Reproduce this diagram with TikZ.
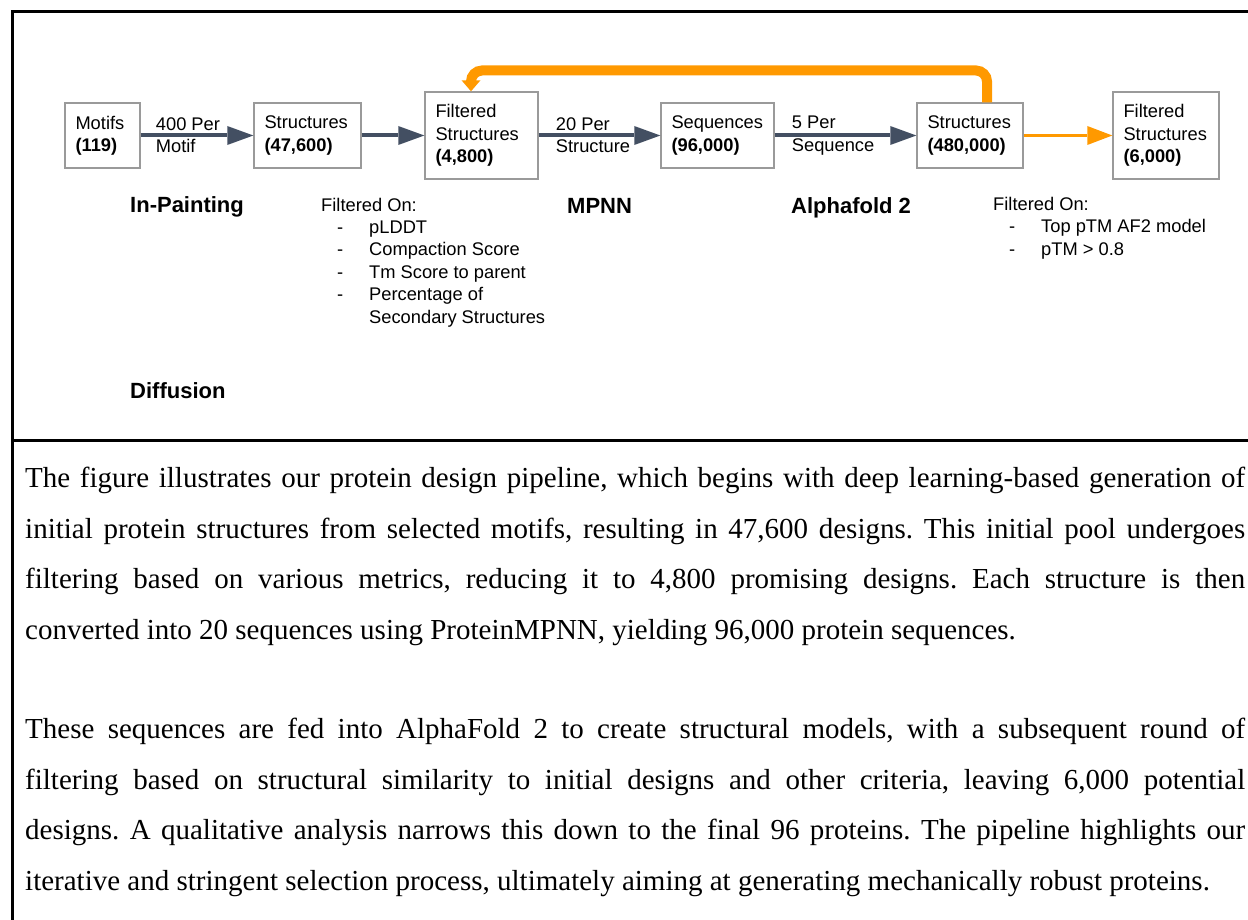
\documentclass[tikz,border=0pt]{standalone}
\usepackage{fontspec}
\setmainfont{Liberation Serif}
\setsansfont{Liberation Sans}
\usetikzlibrary{arrows.meta, positioning}
\frenchspacing

\definecolor{flowdark}{HTML}{434F62}
\definecolor{pickorange}{HTML}{FF9900}
\definecolor{boxgray}{HTML}{9A9A9A}

\newcommand{\boxfont}{\sffamily\fontsize{18.3}{22.4}\selectfont}
\newcommand{\stagefont}{\sffamily\bfseries\fontsize{22}{26}\selectfont}
\newcommand{\bodyfont}{\rmfamily\fontsize{29}{50.5}\selectfont\hyphenpenalty=10000 \tolerance=10000 }
\newcommand{\filtitem}[1]{\hspace*{16pt}\makebox[32pt][l]{-}#1}

\tikzset{
  stagebox/.style={draw=boxgray, line width=1.4pt, align=left, inner xsep=10.5pt, inner ysep=0pt, minimum height=65pt, font=\boxfont},
  tallbox/.style={stagebox, minimum height=87pt},
  ratelabel/.style={align=left, inner sep=0pt, font=\boxfont},
  stagename/.style={inner sep=0pt, anchor=base west, font=\stagefont},
  filterlist/.style={align=left, inner sep=0pt, anchor=north west, font=\boxfont},
  flow/.style={draw=flowdark, line width=4pt, -{Triangle[length=26pt,width=19pt,line width=0pt]}},
  pick/.style={draw=pickorange, line width=3.3pt, -{Triangle[length=25pt,width=19pt,line width=0pt]}},
  loopback/.style={draw=pickorange, line width=10pt, rounded corners=11pt, -{Triangle[length=11pt,width=19pt,line width=0pt]}},
  frame/.style={line width=3pt},
  para/.style={text width=1220pt, align=justify, inner sep=0pt, anchor=north west, font=\bodyfont}
}

\begin{document}
\begin{tikzpicture}[x=1pt,y=-1pt]
  \useasboundingbox (0,0) rectangle (1248,920);

  % --- outer frame and divider ---
  \draw[frame] (1248,12) -- (12.5,12) -- (12.5,920);
  \draw[frame] (12.5,440.5) -- (1248,440.5);

  % --- pipeline boxes ---
  \node[stagebox, text width=54pt] (motifs) at (102.5,135.5) {Motifs\\\textbf{(119)}};
  \node[stagebox, text width=86pt] (str47) at (307.5,135.5) {Structures\\\textbf{(47,600)}};
  \node[tallbox, text width=92pt] (filt48) at (481.5,135.5) {Filtered\\Structures\\\textbf{(4,800)}};
  \node[stagebox, text width=92pt] (seq96) at (717.5,135.5) {Sequences\\\textbf{(96,000)}};
  \node[stagebox, text width=85pt] (str480) at (970,135.5) {Structures\\\textbf{(480,000)}};
  \node[tallbox, text width=85pt] (filt60) at (1166,135.5) {Filtered\\Structures\\\textbf{(6,000)}};

  % --- rates on the arrows ---
  \node[ratelabel, right=15pt of motifs] (rate1) {400 Per\\Motif};
  \node[ratelabel, right=17pt of filt48] (rate2) {20 Per\\Structure};
  \node[ratelabel, right=17pt of seq96] (rate3) {5 Per\\Sequence};

  % --- arrows ---
  \draw[flow] (motifs) -- (str47);
  \draw[flow] (str47) -- (filt48);
  \draw[flow] (filt48) -- (seq96);
  \draw[flow] (seq96) -- (str480);
  \draw[pick] (str480) -- (filt60);

  % feedback loop over the top
  \coordinate (loopR) at (987,70.5);
  \coordinate (loopL) at (471,70.5);
  \draw[loopback] (str480.north -| loopR) -- (loopR) -- (loopL) -- (loopL |- filt48.north);

  % --- stage names ---
  \node[stagename] (inpaint) at (130,213) {In-Painting};
  \node[stagename] (mpnn) at (567,214) {MPNN};
  \node[stagename] (af2) at (791,214) {Alphafold 2};
  \node[stagename] (diffusion) at (130,398) {Diffusion};

  % --- filter criteria ---
  \node[filterlist] (crit1) at (321,197.6) {Filtered On:\\
    \filtitem{pLDDT}\\
    \filtitem{Compaction Score}\\
    \filtitem{Tm Score to parent}\\
    \filtitem{Percentage of}\\
    \hspace*{48pt}Secondary Structures};
  \node[filterlist] (crit2) at (993,197) {Filtered On:\\
    \filtitem{Top pTM AF2 model}\\
    \filtitem{pTM > 0.8}};

  % --- caption text ---
  \node[para] (para1) at (25,466.9) {The figure illustrates our protein design pipeline, which begins with deep learning-based generation of\linebreak
    initial protein structures from selected motifs, resulting in 47,600 designs. This initial pool undergoes\linebreak
    filtering based on various metrics, reducing it to 4,800 promising designs. Each structure is then\linebreak
    converted into 20 sequences using ProteinMPNN, yielding 96,000 protein sequences.};
  \node[para] (para2) at (25,718.2) {These sequences are fed into AlphaFold 2 to create structural models, with a subsequent round of\linebreak
    filtering based on structural similarity to initial designs and other criteria, leaving 6,000 potential\linebreak
    designs. A qualitative analysis narrows this down to the final 96 proteins. The pipeline highlights our\linebreak
    iterative and stringent selection process, ultimately aiming at generating mechanically robust proteins.};
\end{tikzpicture}
\end{document}
